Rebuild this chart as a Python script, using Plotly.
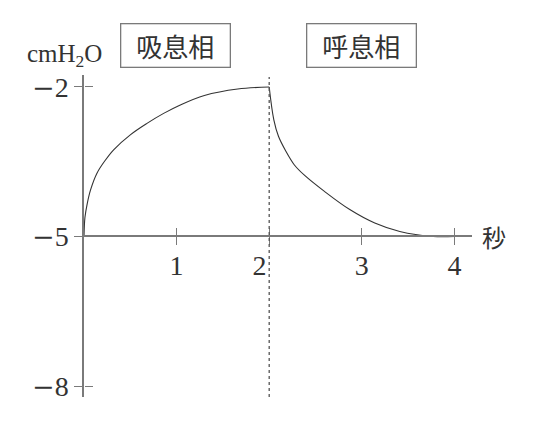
'''Courbe de pression intrapleurale (phase inspiratoire / expiratoire)'''
import plotly.graph_objects as go

# temps (s) et pression (cmH2O)
insp_t = [0, 0.01, 0.035, 0.07, 0.14, 0.23, 0.32, 0.50, 0.68, 0.86, 1.04, 1.30, 1.66, 2.0]
insp_p = [-5, -4.62, -4.34, -4.07, -3.73, -3.47, -3.26, -2.96, -2.73, -2.53, -2.36, -2.17, -2.04, -2.0]
exp_t = [2.0, 2.05, 2.10, 2.18, 2.27, 2.38, 2.60, 2.87, 3.14, 3.41, 3.77, 4.0]
exp_p = [-2.0, -2.66, -2.99, -3.29, -3.56, -3.77, -4.10, -4.46, -4.73, -4.90, -5.0, -5.0]

MINUS = "<span style='font-family:DejaVu Serif;font-size:27px'>\u2212</span>"
x_ticks = [1, 2, 3, 4]
x_labels = ["1", "2\u2002\u2009", "3", "4"]
y_ticks = [-8, -5, -2]
y_labels = [MINUS + "8", MINUS + "5", MINUS + "2"]

phases = ["吸息相", "呼息相"]
phase_x = [0.99, 3.0]
boundary_t = 2

SERIF = "Liberation Serif, Noto Sans CJK JP"
CJK = "Noto Sans CJK JP, Liberation Serif"
INK = "#333333"
AXIS = "#7a7a7a"

x_range = [0, 4.19]
y_range = [-8.22, -1.76]
x_axis_pos = (-5 - y_range[0]) / (y_range[1] - y_range[0])

fig = go.Figure()
for t, p in [(insp_t, insp_p), (exp_t, exp_p)]:
    fig.add_trace(go.Scatter(x=t, y=p, mode="lines",
                             line=dict(color=INK, width=1.1, shape="spline", smoothing=1.0),
                             hoverinfo="skip", showlegend=False))
# trace invisible pour les axes secondaires (ticks traversants)
fig.add_trace(go.Scatter(x=[x_ticks[0]], y=[y_ticks[0]], xaxis="x2", yaxis="y2",
                         mode="markers", marker=dict(opacity=0), showlegend=False,
                         hoverinfo="skip"))

fig.add_shape(type="line", xref="x", yref="paper", x0=boundary_t, x1=boundary_t,
              y0=0, y1=0.994, line=dict(color="#555555", width=1.3, dash="dot"))

for txt, px in zip(phases, phase_x):
    fig.add_annotation(x=px, y=1.092, xref="x", yref="paper", text=txt,
                       xanchor="center", yanchor="middle",
                       showarrow=False, width=106, height=40, borderpad=1,
                       bordercolor=AXIS, borderwidth=1.3,
                       font=dict(family=CJK, size=26, color=INK))

fig.add_annotation(x=0, y=1.06, xref="paper", yref="paper", xshift=-59,
                   text="cmH<sub>2</sub>O", showarrow=False, xanchor="left",
                   yanchor="middle", font=dict(family=SERIF, size=25, color=INK))
fig.add_annotation(x=x_range[1], y=-5, xref="x", yref="y", xshift=8,
                   text="秒", showarrow=False, xanchor="left",
                   font=dict(family=CJK, size=24, color=INK))

# la page ajoute une marge de 8 px : marges gauche/haut compensées
fig.update_layout(
    width=536, height=431,
    margin=dict(l=76, r=72, t=67, b=42, autoexpand=False),
    paper_bgcolor="white", plot_bgcolor="white",
    showlegend=False,
    xaxis=dict(range=x_range, anchor="free", position=x_axis_pos, automargin=False,
               showline=True, linecolor=AXIS, linewidth=1.5,
               showgrid=False, zeroline=False,
               tickmode="array", tickvals=x_ticks, ticktext=x_labels,
               ticks="outside", ticklen=8, tickwidth=1.3, tickcolor=AXIS,
               ticklabelstandoff=-4,
               tickfont=dict(family=SERIF, size=28, color=INK)),
    yaxis=dict(range=y_range, automargin=False,
               showline=True, linecolor=AXIS, linewidth=1.5,
               showgrid=False, zeroline=False,
               tickmode="array", tickvals=y_ticks, ticktext=y_labels,
               ticks="outside", ticklen=8, tickwidth=1.3, tickcolor=AXIS,
               ticklabelstandoff=0,
               tickfont=dict(family=SERIF, size=28, color=INK)),
    xaxis2=dict(overlaying="x", matches="x", anchor="free", position=x_axis_pos,
                automargin=False, showline=False, showgrid=False, zeroline=False,
                tickmode="array", tickvals=x_ticks, showticklabels=False,
                ticks="inside", ticklen=8, tickwidth=1.3, tickcolor=AXIS),
    yaxis2=dict(overlaying="y", matches="y", anchor="free", position=0,
                automargin=False, showline=False, showgrid=False, zeroline=False,
                tickmode="array", tickvals=y_ticks, showticklabels=False,
                ticks="inside", ticklen=8, tickwidth=1.3, tickcolor=AXIS),
)

fig.write_html("out.html")
